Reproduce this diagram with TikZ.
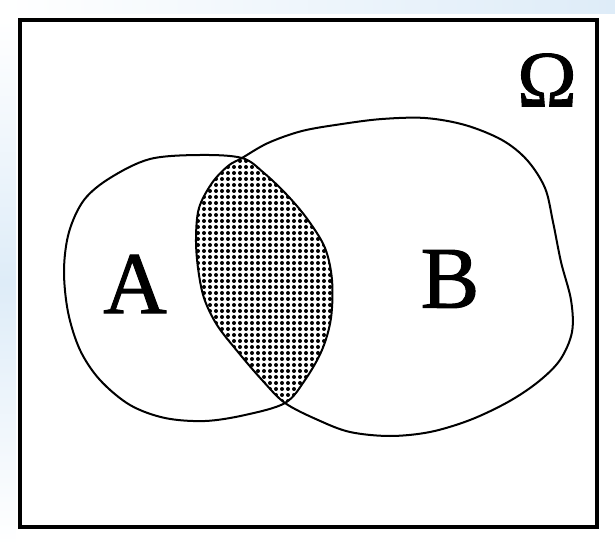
\documentclass[tikz,border=0pt]{standalone}
\usepackage{fontspec}
\setmainfont{Liberation Serif}
\newfontfamily\lettrfont[FakeBold=1.2]{Liberation Serif}
\usetikzlibrary{patterns.meta}
\definecolor{bgblue}{RGB}{222,236,248}
\tikzset{
  frame/.style={line width=3.5pt, line join=miter},
  setline/.style={line width=2pt, line join=round},
  lettr/.style={inner sep=0pt, font=\lettrfont\fontsize{88}{88}\selectfont},
}
\begin{document}
\begin{tikzpicture}[x=1pt,y=-1pt]
\useasboundingbox (0,0) rectangle (615,545);
% faint page background at the edges
\shade[top color=white, bottom color=white, middle color=bgblue] (0,20) rectangle (16,545);
\shade[left color=white, right color=bgblue] (0,0) rectangle (615,14);
% sets
\path[save path=\Apath] plot[smooth cycle, tension=0.55] coordinates {
  (242,158) (200,155) (150,159) (110,178) (84,200) (69,232) (64,270) (68,312)
  (80,350) (100,380) (130,405) (165,418) (205,421) (245,415) (285,403)
  (305,380) (322,350) (331,318) (332,280) (325,248) (308,220) (288,196) (264,173)};
\path[save path=\Bpath] plot[smooth cycle, tension=0.55] coordinates {
  (242,158) (268,143) (302,131) (342,124) (382,119) (425,118) (465,125) (502,140)
  (527,160) (545,188) (553,222) (561,262) (571,300) (572,332) (560,360) (538,382)
  (508,402) (470,420) (430,432) (390,436) (350,432) (318,420) (285,403)
  (262,380) (238,352) (217,325) (204,298) (198,268) (196,238) (199,208) (212,183) (228,166)};
\begin{scope}
  \clip[use path=\Apath];
  \fill[pattern={Dots[distance=6pt, radius=2pt]}, use path=\Bpath];
\end{scope}
\draw[setline, use path=\Apath];
\draw[setline, use path=\Bpath];
% frame
\draw[frame] (20,20) rectangle (597,527);
% labels
\node[lettr] (labA) at (135,284) {A};
\node[lettr] (labB) at (450,279) {B};
\node[lettr, font=\lettrfont\fontsize{80}{80}\selectfont] (omega) at (547,80) {Ω};
\end{tikzpicture}
\end{document}
